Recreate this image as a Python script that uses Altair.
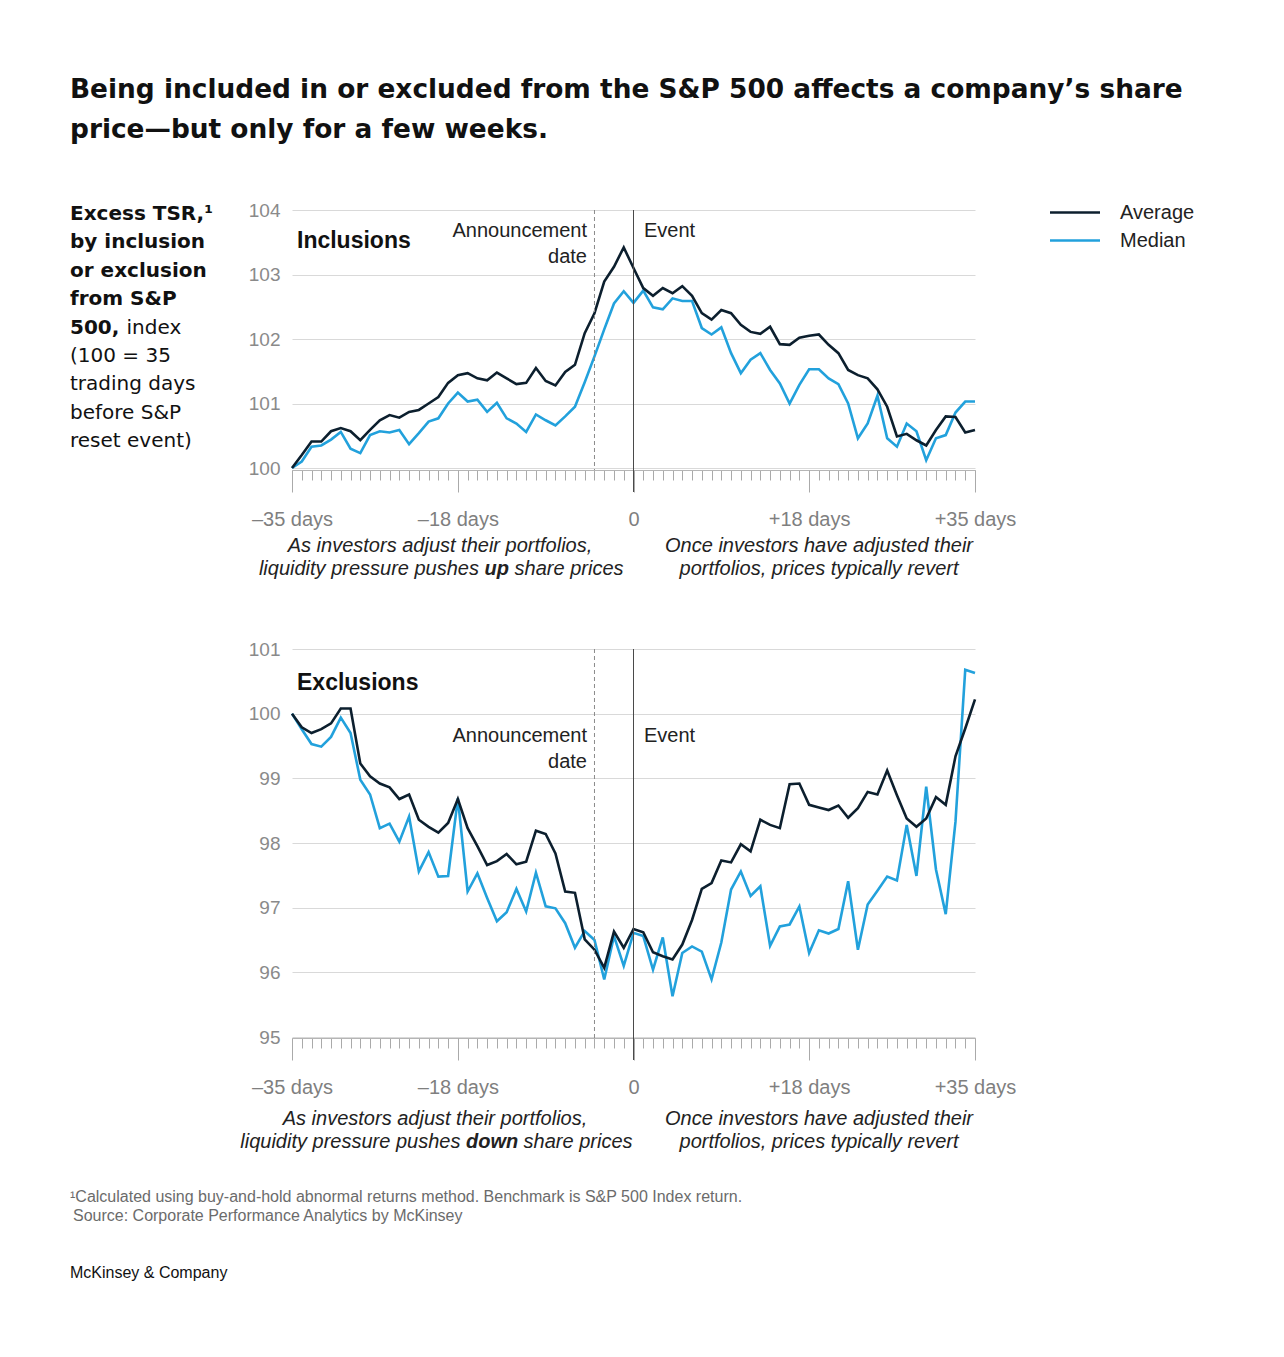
import altair as alt
import pandas as pd

days = list(range(-35, 36))

inc_avg = [100.0, 100.2, 100.41, 100.41, 100.57, 100.62, 100.57, 100.43, 100.59, 100.74,
           100.82, 100.78, 100.87, 100.9, 101.0, 101.1, 101.32, 101.44, 101.47, 101.39,
           101.36, 101.48, 101.39, 101.30, 101.32, 101.55, 101.35, 101.28, 101.49, 101.60,
           102.09, 102.40, 102.89, 103.12, 103.42,
           103.10, 102.79, 102.67, 102.79, 102.71, 102.82, 102.67, 102.40, 102.30, 102.45,
           102.40, 102.22, 102.11, 102.08, 102.19, 101.92, 101.91, 102.02, 102.05, 102.07,
           101.91, 101.78, 101.52, 101.44, 101.39, 101.22, 100.95, 100.49, 100.53, 100.43,
           100.35, 100.59, 100.80, 100.79, 100.55, 100.59]
inc_med = [100.0, 100.1, 100.33, 100.35, 100.44, 100.56, 100.30, 100.23, 100.51, 100.57,
           100.55, 100.59, 100.37, 100.54, 100.72, 100.77, 101.0, 101.17, 101.03, 101.06,
           100.87, 101.01, 100.77, 100.69, 100.56, 100.83, 100.74, 100.66, 100.80, 100.95,
           101.33, 101.73, 102.15, 102.55, 102.74,
           102.56, 102.75, 102.49, 102.46, 102.63, 102.59, 102.59, 102.17, 102.07, 102.18,
           101.78, 101.47, 101.68, 101.78, 101.52, 101.31, 101.0, 101.29, 101.53, 101.53,
           101.39, 101.30, 101.0, 100.46, 100.69, 101.12, 100.46, 100.33, 100.69, 100.57,
           100.12, 100.46, 100.51, 100.86, 101.03, 101.03]
exc_avg = [100.0, 99.79, 99.70, 99.76, 99.85, 100.08, 100.08, 99.23, 99.03, 98.92,
           98.86, 98.68, 98.75, 98.36, 98.25, 98.16, 98.31, 98.68, 98.23, 97.95,
           97.66, 97.72, 97.83, 97.67, 97.71, 98.19, 98.14, 97.84, 97.25, 97.23,
           96.51, 96.35, 96.07, 96.63, 96.38,
           96.67, 96.62, 96.31, 96.25, 96.20, 96.43, 96.81, 97.29, 97.38, 97.73,
           97.70, 97.98, 97.87, 98.36, 98.28, 98.23, 98.91, 98.92, 98.59, 98.55,
           98.51, 98.58, 98.39, 98.54, 98.79, 98.75, 99.12, 98.74, 98.38, 98.25,
           98.38, 98.71, 98.59, 99.34, 99.77, 100.22]
exc_med = [100.0, 99.76, 99.53, 99.49, 99.64, 99.94, 99.70, 98.98, 98.75, 98.23,
           98.30, 98.02, 98.41, 97.56, 97.86, 97.48, 97.49, 98.69, 97.25, 97.53,
           97.15, 96.79, 96.93, 97.29, 96.94, 97.54, 97.02, 96.99, 96.76, 96.38,
           96.64, 96.50, 95.89, 96.56, 96.10,
           96.61, 96.56, 96.04, 96.54, 95.63, 96.30, 96.40, 96.32, 95.89, 96.46,
           97.28, 97.56, 97.18, 97.33, 96.41, 96.71, 96.74, 97.02, 96.30, 96.65,
           96.60, 96.67, 97.41, 96.35, 97.05, 97.26, 97.48, 97.42, 98.28, 97.49,
           98.87, 97.59, 96.90, 98.33, 100.68, 100.63]

series_names = ["Average", "Median"]
major_days = [-35, -18, 0, 18, 35]
announcement_day = [-4]
event_day = [0]
inc_ticks = [100, 101, 102, 103, 104]
exc_ticks = [95, 96, 97, 98, 99, 100, 101]

DARK = "#0c1f2e"
BLUE = "#22a1dc"
SANS = "Liberation Sans"
WIDE = "DejaVu Sans"

def frame(vals, name):
    return pd.DataFrame({"day": days, "value": vals, "series": name})

inc_avg_df = frame(inc_avg, "Average")
inc_med_df = frame(inc_med, "Median")
exc_avg_df = frame(exc_avg, "Average")
exc_med_df = frame(exc_med, "Median")
ann_df = pd.DataFrame({"day": announcement_day})
evt_df = pd.DataFrame({"day": event_day})
dummy = pd.DataFrame({"k": [0]})

H = 827
xscale = alt.Scale(domain=[-35, 35], nice=False, zero=False)
top_y = alt.Scale(domain=[100, 104], range=[258, 0], nice=False, zero=False)
bot_y = alt.Scale(domain=[95, 101], range=[827, 439], nice=False, zero=False)
cscale = alt.Scale(domain=series_names, range=[DARK, BLUE])

legend = alt.Legend(title=None, orient="none", legendX=771.5, legendY=-9,
                    symbolType="M-2.5,0H2.5", symbolSize=400, symbolStrokeWidth=2.6,
                    labelFontSize=20, labelFont=SANS, labelColor="#222",
                    labelOffset=33.5, rowPadding=6, padding=0, direction="vertical")


def minor_axis(offset):
    return alt.Axis(values=days, tickSize=10, labels=False, domain=True,
                    domainColor="#b5b5b5", tickColor="#aaaaaa", tickWidth=1,
                    grid=False, title=None, orient="bottom", offset=offset)


def major_axis(offset):
    return alt.Axis(values=major_days, tickSize=22, domain=False, grid=False,
                    tickColor="#aaaaaa", tickWidth=1, title=None, orient="bottom",
                    offset=offset, labelPadding=33, labelBaseline="alphabetic",
                    labelFontSize=20, labelFont=SANS, labelColor="#7f7f7f",
                    labelFlush=False, labelOverlap=False, labelBound=False,
                    labelExpr="datum.value == 0 ? '0' : (datum.value < 0 ? '\u2013' + abs(datum.value) + ' days' : '+' + datum.value + ' days')")


def y_axis(vals):
    return alt.Axis(values=vals, grid=True, gridColor="#d9d9d9", gridWidth=1,
                    domain=False, ticks=False, tickSize=0, labelPadding=12,
                    labelFontSize=19, labelFont=SANS, labelColor="#8a8a8a",
                    title=None, orient="left", format="d")


def panel(avg_df, med_df, yscale, yvals, offset, ytop, ybot_px, evt_bot_px, with_legend):
    xa = minor_axis(offset)
    med = alt.Chart(med_df).mark_line(strokeWidth=2.6).encode(
        x=alt.X("day:Q", scale=xscale, axis=xa),
        y=alt.Y("value:Q", scale=yscale, axis=y_axis(yvals)),
        color=alt.Color("series:N", scale=cscale, legend=legend) if with_legend else alt.Color("series:N", scale=cscale),
    )
    avg = alt.Chart(avg_df).mark_line(strokeWidth=2.6).encode(
        x=alt.X("day:Q", scale=xscale, axis=xa),
        y=alt.Y("value:Q", scale=yscale, axis=y_axis(yvals)),
        color=alt.Color("series:N", scale=cscale),
    )
    dashed = alt.Chart(ann_df).mark_rule(strokeDash=[4, 3], color="#8a8a8a", strokeWidth=1).encode(
        x=alt.X("day:Q", scale=xscale, axis=xa),
        y=alt.YDatum(ytop, scale=yscale, axis=y_axis(yvals)),
        y2=alt.value(ybot_px),
    )
    minor_layer = alt.layer(med, avg, dashed)
    evt = alt.Chart(evt_df).mark_rule(color="#4a4a4a", strokeWidth=1).encode(
        x=alt.X("day:Q", scale=xscale, axis=major_axis(offset)),
        y=alt.YDatum(ytop, scale=yscale, axis=None),
        y2=alt.value(evt_bot_px),
    )
    major_layer = alt.layer(evt)
    return minor_layer, major_layer


top_minor, top_major = panel(inc_avg_df, inc_med_df, top_y, inc_ticks, -567, 104, 260, 282, True)
bot_minor, bot_major = panel(exc_avg_df, exc_med_df, bot_y, exc_ticks, 1, 101, 828, 850, False)


def txt(s, x, y, size=20, font=SANS, weight="normal", style="normal", align="left", color="#222222"):
    return alt.Chart(dummy).mark_text(
        text=s, fontSize=size, font=font, fontWeight=weight, fontStyle=style,
        align=align, baseline="alphabetic", color=color,
    ).encode(x=alt.value(x), y=alt.value(y))


texts = [
    txt("Being included in or excluded from the S&P 500 affects a company\u2019s share", -222, -112, 26.4, WIDE, "bold", color="#111111"),
    txt("price\u2014but only for a few weeks.", -222, -72, 26.4, WIDE, "bold", color="#111111"),
]
left_lines = [
    ("Excess TSR,\u00b9", "bold"),
    ("by inclusion", "bold"),
    ("or exclusion", "bold"),
    ("from S&P", "bold"),
    ("500,", "bold"),
    ("(100 = 35", "normal"),
    ("trading days", "normal"),
    ("before S&P", "normal"),
    ("reset event)", "normal"),
]
for i, (s, w) in enumerate(left_lines):
    texts.append(txt(s, -222, 10 + i * 28.4, 20, WIDE, w, color="#111111"))
texts.append(txt("index", -165.5, 10 + 4 * 28.4, 20, WIDE, "normal", color="#111111"))

# top panel annotations
texts += [
    txt("Inclusions", 5, 38, 23, SANS, "bold", color="#111111"),
    txt("Announcement", 295, 27, 20, align="right"),
    txt("date", 295, 53, 20, align="right"),
    txt("Event", 352, 27, 20),
    txt("As investors adjust their portfolios,", 148, 342, 20, style="italic", align="center"),
    txt("liquidity pressure pushes", 187, 365, 20, style="italic", align="right"),
    txt("up", 192.6, 365, 20, weight="bold", style="italic"),
    txt("share prices", 222.6, 365, 20, style="italic"),
    txt("Once investors have adjusted their", 527, 342, 20, style="italic", align="center"),
    txt("portfolios, prices typically revert", 527, 365, 20, style="italic", align="center"),
]
# bottom panel annotations
texts += [
    txt("Exclusions", 5, 480, 23, SANS, "bold", color="#111111"),
    txt("Announcement", 295, 532, 20, align="right"),
    txt("date", 295, 558, 20, align="right"),
    txt("Event", 352, 532, 20),
    txt("As investors adjust their portfolios,", 143, 915, 20, style="italic", align="center"),
    txt("liquidity pressure pushes", 168.4, 938, 20, style="italic", align="right"),
    txt("down", 174, 938, 20, weight="bold", style="italic"),
    txt("share prices", 231.6, 938, 20, style="italic"),
    txt("Once investors have adjusted their", 527, 915, 20, style="italic", align="center"),
    txt("portfolios, prices typically revert", 527, 938, 20, style="italic", align="center"),
]
# footer
texts += [
    txt("\u00b9Calculated using buy-and-hold abnormal returns method. Benchmark is S&P 500 Index return.", -222, 992, 16, color="#6b6b6b"),
    txt("Source: Corporate Performance Analytics by McKinsey", -219, 1011, 16, color="#6b6b6b"),
    txt("McKinsey & Company", -222, 1068, 16, color="#111111"),
]

chart = alt.layer(top_minor, top_major, bot_minor, bot_major, *texts).resolve_scale(
    x="independent", y="independent"
).properties(
    width=683, height=H,
    autosize=alt.AutoSizeParams(type="none"),
    padding={"left": 284, "top": 202, "right": 301, "bottom": 271},
    background="white",
).configure_view(stroke=None)

chart.save("out.html", embed_options={"renderer": "svg", "actions": False})
